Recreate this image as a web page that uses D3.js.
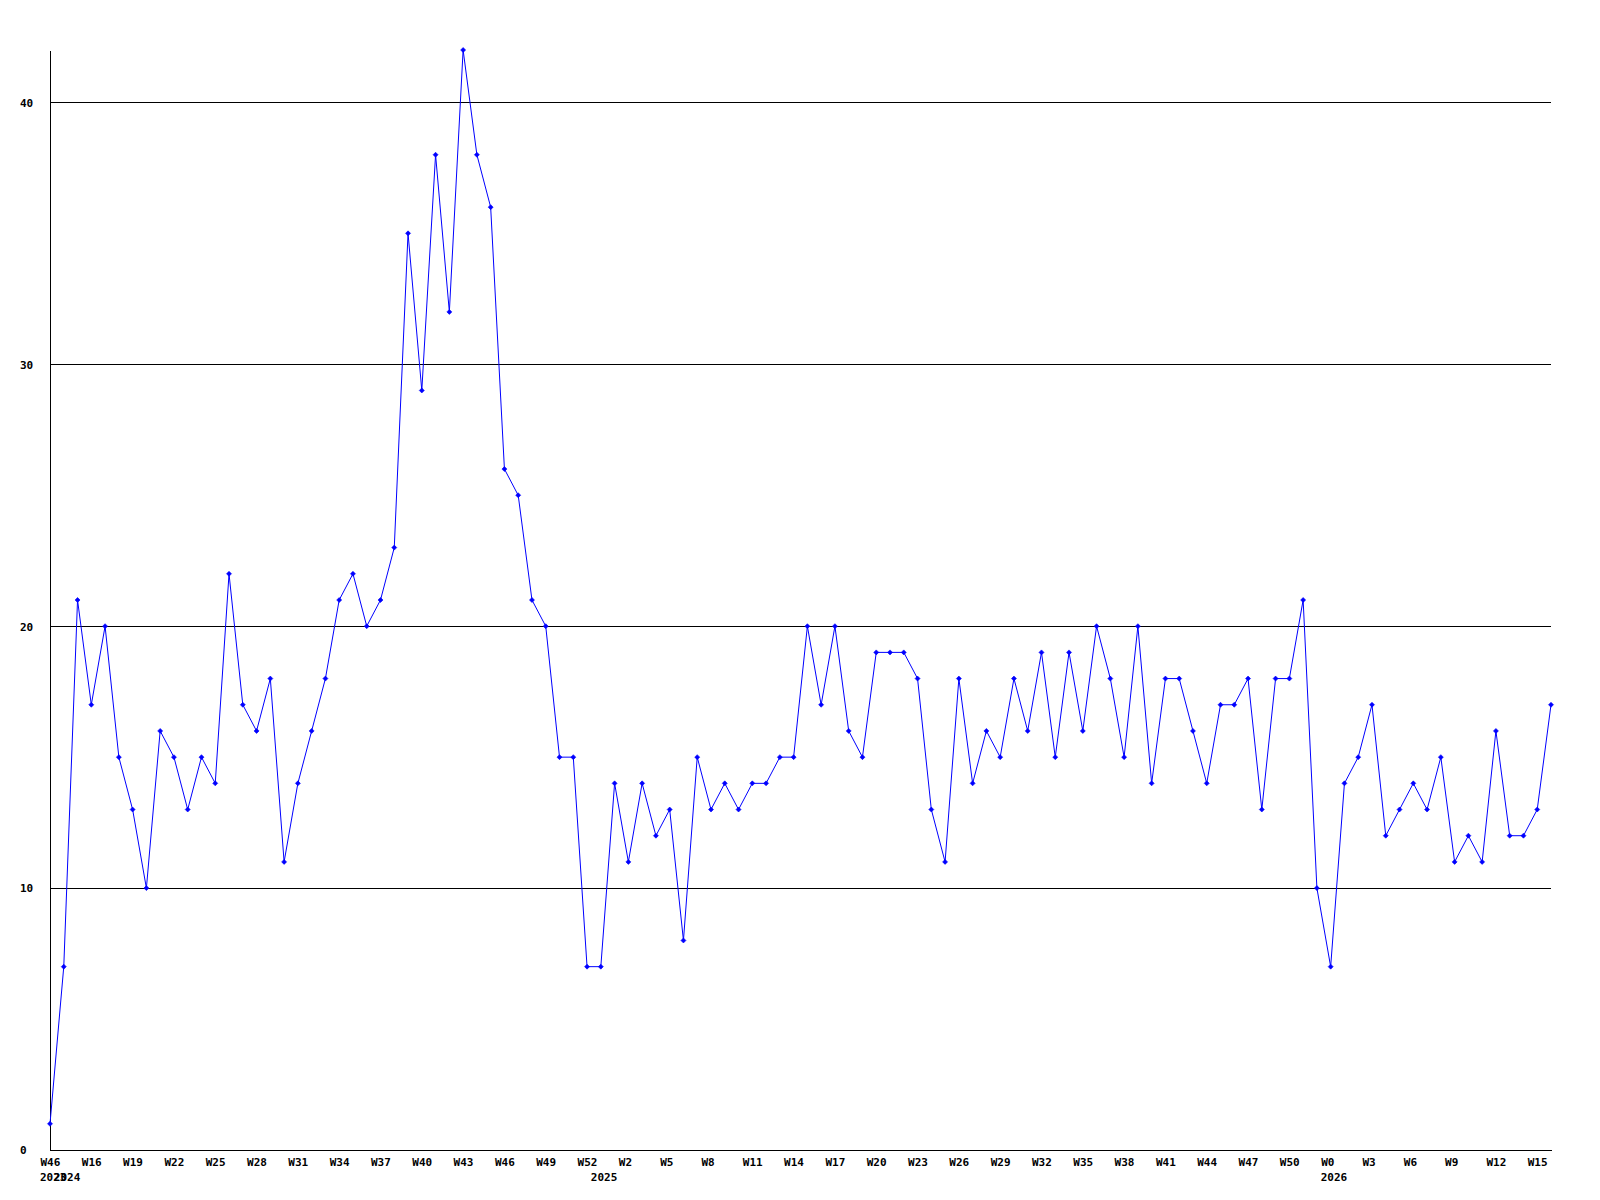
<!DOCTYPE html>
<html>
<head>
<meta charset="utf-8">
<script src="https://cdn.jsdelivr.net/npm/d3@7"></script>
<style>
  body { margin: 0; background: #fff; }
  text { font-family: "DejaVu Sans Mono", monospace; font-weight: bold; font-size: 11px; fill: #000; }
</style>
</head>
<body>
<div id="chart"></div>
<script>
var svgWidth = 1600;
var svgHeight = 1200;

var margin = { top: 50, right: 49, bottom: 50, left: 50 };

var width = svgWidth - margin.left - margin.right;
var height = svgHeight - margin.top - margin.bottom;

// weekly counts, 2023 W46 then 2024 W14 .. 2026 W16
var values = [
  1, 7, 21, 17, 20, 15, 13, 10, 16, 15, 13, 15, 14, 22, 17, 16, 18, 11, 14, 16,
  18, 21, 22, 20, 21, 23, 35, 29, 38, 32, 42, 38, 36, 26, 25, 21, 20, 15, 15, 7,
  7, 14, 11, 14, 12, 13, 8, 15, 13, 14, 13, 14, 14, 15, 15, 20, 17, 20, 16, 15,
  19, 19, 19, 18, 13, 11, 18, 14, 16, 15, 18, 16, 19, 15, 19, 16, 20, 18, 15, 20,
  14, 18, 18, 16, 14, 17, 17, 18, 13, 18, 18, 21, 10, 7, 14, 15, 17, 12, 13, 14,
  13, 15, 11, 12, 11, 16, 12, 12, 13, 17
];

// one label every 3rd point
var weekLabels = [
  "W46", "W16", "W19", "W22", "W25", "W28", "W31", "W34", "W37", "W40",
  "W43", "W46", "W49", "W52", "W2", "W5", "W8", "W11", "W14", "W17",
  "W20", "W23", "W26", "W29", "W32", "W35", "W38", "W41", "W44", "W47",
  "W50", "W0", "W3", "W6", "W9", "W12", "W15"
];

// first point of each year
var yearIndex = [0, 1, 40, 93];
var yearLabels = ["2023", "2024", "2025", "2026"];

var yTicks = [0, 10, 20, 30, 40];

var svg = d3
  .select("#chart")
  .append("svg")
  .attr("width", svgWidth)
  .attr("height", svgHeight);

var chartGroup = svg
  .append("g")
  .attr("transform", `translate(${margin.left}, ${margin.top})`);

var xScale = d3.scaleLinear()
  .domain([0, values.length - 1])
  .range([0, width]);

var yScale = d3.scaleLinear()
  .domain([0, 42])
  .range([height, 0]);

// horizontal grid lines
chartGroup.append("g")
  .selectAll("line")
  .data(yTicks.filter(d => d > 0))
  .enter()
  .append("line")
  .attr("x1", 0)
  .attr("x2", width)
  .attr("y1", d => yScale(d))
  .attr("y2", d => yScale(d))
  .attr("stroke", "#000")
  .attr("shape-rendering", "crispEdges");

// y axis
var leftAxis = d3.axisLeft(yScale).tickValues(yTicks).tickSize(0).tickFormat(d3.format("d"));
var yAxis = chartGroup.append("g").call(leftAxis);
yAxis.select(".domain").attr("stroke", "#000").attr("shape-rendering", "crispEdges");
yAxis.selectAll("text")
  .attr("x", -30)
  .attr("dy", "0.35em")
  .attr("text-anchor", "start")
  .style("font-family", null).style("font-size", null);
yAxis.attr("font-family", null).attr("font-size", null);

// x axis
var tickIdx = weekLabels.map((d, i) => i * 3);
var bottomAxis = d3.axisBottom(xScale)
  .tickValues(tickIdx)
  .tickSize(0)
  .tickFormat((d, i) => weekLabels[i]);
var xAxis = chartGroup.append("g")
  .attr("transform", `translate(0, ${height})`)
  .call(bottomAxis);
xAxis.select(".domain").attr("stroke", "#000").attr("shape-rendering", "crispEdges");
xAxis.selectAll("text")
  .attr("x", -10)
  .attr("y", 16)
  .attr("dy", null)
  .attr("text-anchor", "start");
xAxis.attr("font-family", null).attr("font-size", null);

// year labels
chartGroup.append("g")
  .selectAll("text")
  .data(yearIndex)
  .enter()
  .append("text")
  .attr("x", d => xScale(d) - 10)
  .attr("y", height + 31)
  .text((d, i) => yearLabels[i]);

// the line
var line = d3.line()
  .x((d, i) => xScale(i))
  .y(d => yScale(d));

chartGroup.append("path")
  .datum(values)
  .attr("d", line)
  .attr("fill", "none")
  .attr("stroke", "#0000ff")
  .attr("stroke-width", 1);

// diamond markers
chartGroup.append("g")
  .selectAll("path")
  .data(values)
  .enter()
  .append("path")
  .attr("transform", (d, i) => `translate(${xScale(i)}, ${yScale(d)})`)
  .attr("d", "M0,-2.5L2.5,0L0,2.5L-2.5,0Z")
  .attr("fill", "#0000ff")
  .attr("stroke", "#0000ff")
  .attr("stroke-width", 0.6);
</script>
</body>
</html>
